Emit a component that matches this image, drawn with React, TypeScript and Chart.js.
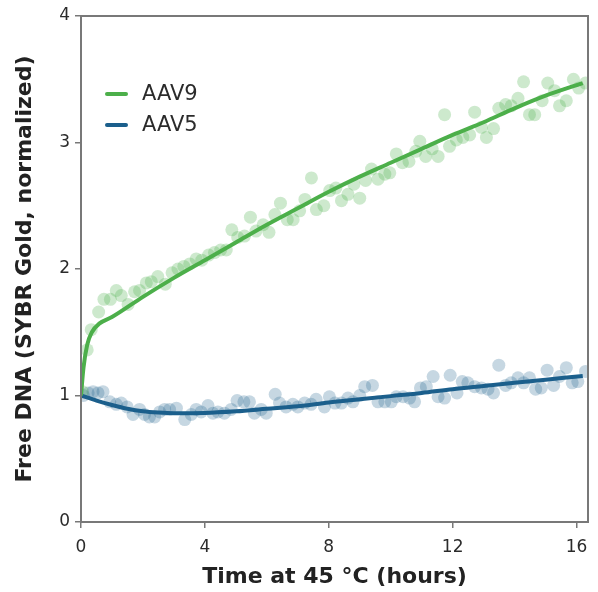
import { useEffect, useRef } from "react";
import { Chart, registerables } from "chart.js";

Chart.register(...registerables);

// ---- data ----
const seriesLabels = ["AAV9", "AAV5"];
const xTickValues = [0, 4, 8, 12, 16];
const yTickValues = [0, 1, 2, 3, 4];

const aav9Times = [
  0.05, 0.2, 0.33, 0.57, 0.74, 0.95, 1.14, 1.3, 1.52, 1.73, 1.89, 2.11, 2.27, 2.48, 2.72, 2.94, 3.13, 3.32,
  3.51, 3.72, 3.9, 4.12, 4.31, 4.51, 4.69, 4.87, 5.06, 5.28, 5.47, 5.65, 5.88, 6.07, 6.26, 6.44, 6.66, 6.85,
  7.06, 7.23, 7.44, 7.6, 7.84, 8.03, 8.23, 8.41, 8.62, 8.81, 9.0, 9.19, 9.38, 9.59, 9.81, 9.97, 10.18, 10.38,
  10.59, 10.81, 10.94, 11.13, 11.34, 11.53, 11.74, 11.9, 12.12, 12.33, 12.55, 12.71, 12.93, 13.09, 13.32,
  13.49, 13.71, 13.89, 14.11, 14.29, 14.48, 14.65, 14.89, 15.07, 15.29, 15.45, 15.67, 15.9, 16.07, 16.29,
];
const aav9Values = [
  1.03, 1.36, 1.52, 1.66, 1.76, 1.76, 1.83, 1.79, 1.72, 1.82, 1.83, 1.89, 1.9, 1.94, 1.88, 1.97, 2.0, 2.02,
  2.04, 2.08, 2.07, 2.11, 2.13, 2.15, 2.15, 2.31, 2.25, 2.26, 2.41, 2.3, 2.35, 2.29, 2.43, 2.52, 2.39, 2.39,
  2.46, 2.55, 2.72, 2.47, 2.5, 2.62, 2.64, 2.54, 2.59, 2.67, 2.56, 2.7, 2.79, 2.71, 2.75, 2.76, 2.91, 2.84,
  2.85, 2.93, 3.01, 2.89, 2.95, 2.89, 3.22, 2.97, 3.02, 3.04, 3.06, 3.24, 3.12, 3.04, 3.11,
  3.27, 3.3, 3.29, 3.35, 3.48, 3.22, 3.22, 3.33, 3.47, 3.41, 3.29, 3.33, 3.5, 3.43, 3.47,
];

const aav5Times = [
  0.08, 0.23, 0.39, 0.55, 0.71, 0.93, 1.14, 1.3, 1.49, 1.68, 1.89, 2.05, 2.21, 2.38, 2.54, 2.7, 2.86, 3.08,
  3.35, 3.56, 3.72, 3.88, 4.1, 4.26, 4.42, 4.63, 4.85, 5.04, 5.26, 5.44, 5.6, 5.82, 5.98, 6.27, 6.41, 6.62,
  6.84, 7.0, 7.22, 7.43, 7.59, 7.86, 8.02, 8.2, 8.41, 8.62, 8.78, 9.0, 9.16, 9.41, 9.59, 9.81, 10.02, 10.18,
  10.4, 10.61, 10.77, 10.96, 11.15, 11.37, 11.53, 11.74, 11.92, 12.14, 12.31, 12.49, 12.71, 12.93, 13.14,
  13.32, 13.49, 13.71, 13.89, 14.11, 14.29, 14.48, 14.68, 14.86, 15.05, 15.26, 15.45, 15.67, 15.86, 16.04,
  16.29,
];
const aav5Values = [
  1.0, 1.02, 1.03, 1.02, 1.03, 0.95, 0.93, 0.94, 0.91, 0.85, 0.89, 0.85, 0.83, 0.83, 0.87, 0.89, 0.89, 0.9,
  0.81, 0.85, 0.89, 0.87, 0.92, 0.86, 0.87, 0.86, 0.89, 0.96, 0.95, 0.95, 0.86, 0.89, 0.86, 1.01, 0.94, 0.91,
  0.93, 0.91, 0.94, 0.93, 0.97, 0.91, 0.99, 0.94, 0.94, 0.98, 0.95, 1.0, 1.07, 1.08, 0.95, 0.95, 0.95, 0.99,
  0.99, 0.98, 0.95, 1.06, 1.07, 1.15, 0.99, 0.98, 1.16, 1.02, 1.11, 1.1, 1.07, 1.06, 1.05,
  1.02, 1.24, 1.08, 1.1, 1.14, 1.1, 1.14, 1.05, 1.06, 1.2, 1.08, 1.15, 1.22, 1.1, 1.11,
  1.19,
];

const aav9FitTimes = [0, 0.08, 0.2, 0.35, 0.6, 1, 2, 3, 4, 5, 6, 7, 8, 9, 10, 11, 12, 13, 14, 15, 16.2];
const aav9FitValues = [1.0, 1.22, 1.4, 1.5, 1.57, 1.62, 1.78, 1.93, 2.07, 2.21, 2.35, 2.48, 2.61, 2.73, 2.84, 2.95, 3.06, 3.16, 3.27, 3.37, 3.47];

const aav5FitTimes = [0, 0.5, 1, 1.5, 2, 2.5, 3, 4, 5, 6, 7, 8, 9, 10, 11, 12, 13, 14, 15, 16.2];
const aav5FitValues = [1.0, 0.96, 0.925, 0.895, 0.875, 0.865, 0.86, 0.862, 0.875, 0.895, 0.915, 0.945, 0.97, 0.995, 1.02, 1.05, 1.075, 1.1, 1.125, 1.155];

const GREEN = "#4caf4a";
const BLUE = "#1b5f8c";
const GREEN_PT = "rgba(76,175,74,0.28)";
const BLUE_PT = "rgba(27,95,140,0.25)";
const FONT = "'DejaVu Sans', 'Noto Sans', sans-serif";

function pairs(ts: number[], vs: number[]) {
  return ts.map((t, i) => ({ x: t, y: vs[i] }));
}

export default function App() {
  const ref = useRef<HTMLCanvasElement>(null);

  useEffect(() => {
    document.body.style.margin = "0";
    const canvas = ref.current;
    if (!canvas) return;

    const framePlugin = {
      id: "frame",
      afterDatasetsDraw(chart: any) {
        const { ctx, chartArea: a } = chart;
        ctx.save();
        ctx.strokeStyle = "#787878";
        ctx.lineWidth = 2;
        ctx.strokeRect(a.left, a.top, a.right - a.left, a.bottom - a.top);
        ctx.restore();
      },
    };

    const legendPlugin = {
      id: "inlineLegend",
      afterDraw(chart: any) {
        const { ctx, chartArea: a } = chart;
        const colors = [GREEN, BLUE];
        ctx.save();
        seriesLabels.forEach((label, i) => {
          const y = a.top + 78 + i * 31;
          ctx.strokeStyle = colors[i];
          ctx.lineWidth = 4;
          ctx.lineCap = "round";
          ctx.beginPath();
          ctx.moveTo(a.left + 26, y);
          ctx.lineTo(a.left + 45, y);
          ctx.stroke();
          ctx.fillStyle = "#2b2b2b";
          ctx.font = `21px ${FONT}`;
          ctx.textBaseline = "middle";
          ctx.textAlign = "left";
          ctx.fillText(label, a.left + 61, y + 1);
        });
        ctx.restore();
      },
    };

    const chart = new Chart(canvas, {
      type: "scatter",
      data: {
        datasets: [
          {
            label: seriesLabels[0],
            data: pairs(aav9FitTimes, aav9FitValues),
            showLine: true,
            borderColor: GREEN,
            borderWidth: 4,
            pointRadius: 0,
            cubicInterpolationMode: "monotone",
            order: 0,
          },
          {
            label: seriesLabels[1],
            data: pairs(aav5FitTimes, aav5FitValues),
            showLine: true,
            borderColor: BLUE,
            borderWidth: 4,
            pointRadius: 0,
            cubicInterpolationMode: "monotone",
            order: 0,
          },
          {
            label: seriesLabels[0] + " data",
            data: pairs(aav9Times, aav9Values),
            pointRadius: 6.5,
            pointBackgroundColor: GREEN_PT,
            pointBorderWidth: 0,
            order: 1,
          },
          {
            label: seriesLabels[1] + " data",
            data: pairs(aav5Times, aav5Values),
            pointRadius: 6.5,
            pointBackgroundColor: BLUE_PT,
            pointBorderWidth: 0,
            order: 1,
          },
        ] as any,
      },
      options: {
        responsive: false,
        animation: false,
        devicePixelRatio: 1,
        layout: { padding: { top: 16, right: 10, left: 0, bottom: 0 } },
        plugins: { legend: { display: false }, tooltip: { enabled: false } },
        scales: {
          x: {
            type: "linear",
            min: 0,
            max: 16.37,
            afterBuildTicks: (s: any) => {
              s.ticks = xTickValues.map((v) => ({ value: v }));
            },
            afterFit: (s: any) => {
              s.height = 70;
            },
            ticks: {
              font: { family: FONT, size: 17 },
              color: "#2b2b2b",
              padding: 9,
              maxRotation: 0,
              autoSkip: false,
            },
            grid: { drawOnChartArea: false, tickLength: 6, color: "#787878", lineWidth: 1.5 },
            border: { display: false },
            title: {
              display: true,
              text: "Time at 45 °C (hours)",
              font: { family: FONT, size: 22, weight: "bold" },
              color: "#222",
              padding: { top: 0, bottom: 2 },
            },
          },
          y: {
            type: "linear",
            min: 0,
            max: 4,
            afterBuildTicks: (s: any) => {
              s.ticks = yTickValues.map((v) => ({ value: v }));
            },
            afterFit: (s: any) => {
              s.width = 81;
            },
            ticks: {
              font: { family: FONT, size: 17 },
              color: "#2b2b2b",
              padding: 5,
            },
            grid: { drawOnChartArea: false, tickLength: 6, color: "#787878", lineWidth: 1.5 },
            border: { display: false },
            title: {
              display: true,
              text: "Free DNA (SYBR Gold, normalized)",
              font: { family: FONT, size: 22, weight: "bold" },
              color: "#222",
              padding: { top: 12, bottom: 0 },
            },
          },
        },
      },
      plugins: [framePlugin, legendPlugin],
    } as any);

    return () => chart.destroy();
  }, []);

  return (
    <div style={{ width: 598, height: 592 }}>
      <canvas ref={ref} width={598} height={592} style={{ display: "block" }} />
    </div>
  );
}
